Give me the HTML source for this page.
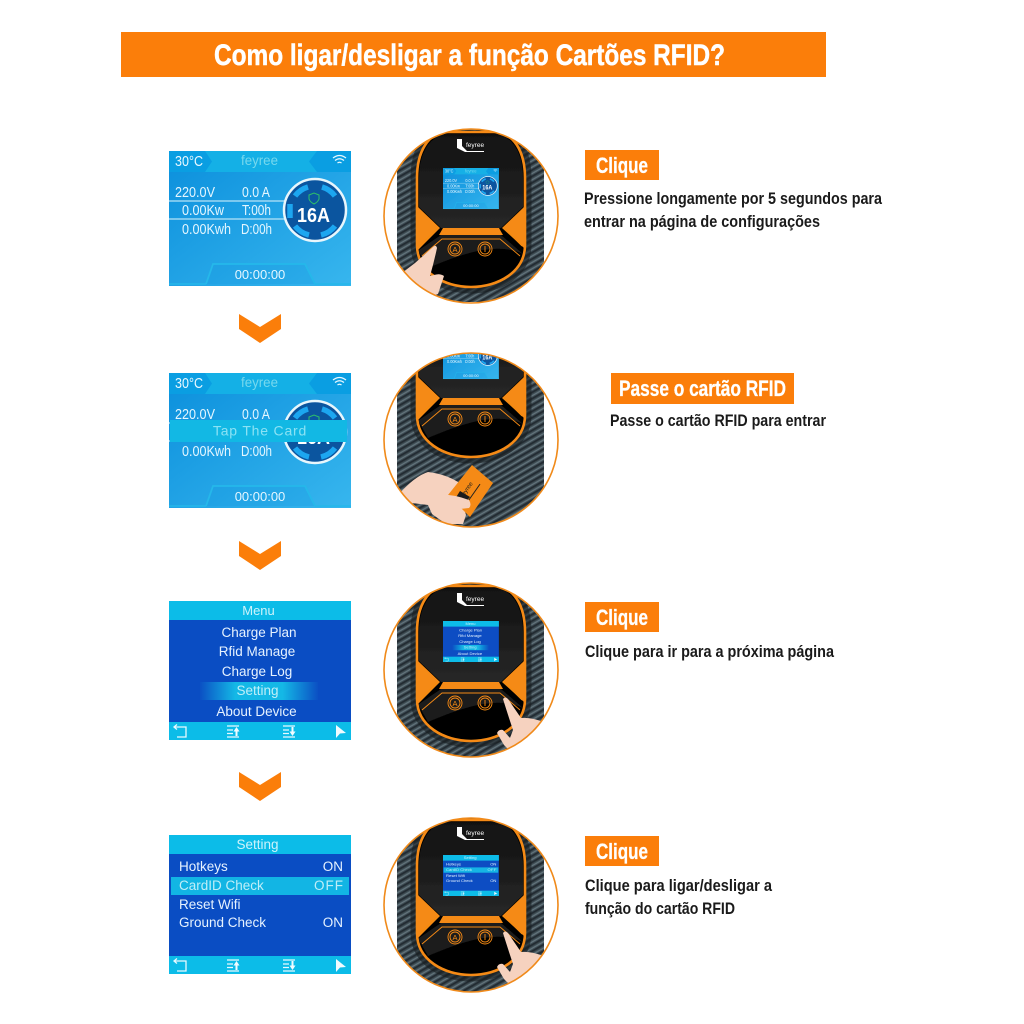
<!DOCTYPE html>
<html lang="pt"><head><meta charset="utf-8"><title>Como ligar/desligar a função Cartões RFID?</title>
<style>html,body{margin:0;padding:0;background:#fff}svg{display:block}text{font-family:"Liberation Sans",sans-serif}</style></head>
<body>
<svg xmlns="http://www.w3.org/2000/svg" xmlns:xlink="http://www.w3.org/1999/xlink" width="1024" height="1024" viewBox="0 0 1024 1024">
<defs>
<linearGradient id="bg" x1="0" y1="0" x2="1" y2="1"><stop offset="0" stop-color="#0b8fdc"/><stop offset="1" stop-color="#37b6ee"/></linearGradient>
<linearGradient id="hl"><stop offset="0" stop-color="#0b50c4"/><stop offset=".3" stop-color="#14b8e6"/><stop offset=".7" stop-color="#14b8e6"/><stop offset="1" stop-color="#0b50c4"/></linearGradient>
<linearGradient id="top" x1="0" y1="0" x2="0" y2="1"><stop offset="0" stop-color="#111"/><stop offset="1" stop-color="#272727"/></linearGradient>
<pattern id="carbon" width="5.500" height="5.500" patternUnits="userSpaceOnUse" patternTransform="rotate(-30)">
<rect width="5.500" height="5.500" fill="#3d4b52"/><rect width="5.500" height="1.800" fill="#232c31"/><rect y="3.200" width="5.500" height="1.200" fill="#66777f"/></pattern>
<clipPath id="c1"><circle cx="471" cy="216" r="87"/></clipPath>
<clipPath id="c2"><circle cx="471" cy="440" r="87"/></clipPath>
<clipPath id="c3"><circle cx="471" cy="670" r="87"/></clipPath>
<clipPath id="c4"><circle cx="471" cy="905" r="87"/></clipPath>
<filter id="soft"><feGaussianBlur stdDeviation=".25"/></filter>

<g id="s1">
<rect x="169" y="151" width="182" height="135" fill="url(#bg)"/>
<rect x="169" y="151" width="182" height="21" fill="#14b0e6"/>
<path d="M169 151H205L212 161.500L205 172H169Z" fill="#0a9ee2"/>
<path d="M351 151H317L309 161.500L317 172H351Z" fill="#0a9ee2"/>
<text x="175" y="166" font-size="15" fill="#e8f8ff" textLength="28" lengthAdjust="spacingAndGlyphs">30°C</text>
<text x="241" y="165" font-size="13.500" fill="#76d8ee" textLength="37" lengthAdjust="spacingAndGlyphs">feyree</text>
<g fill="none" stroke="#e8f8ff" stroke-width="1.300"><path d="M333 158Q339.500 153 346 158"/><path d="M335 160.500Q339.500 157 344 160.500"/><path d="M337.500 163Q339.500 161.500 341.500 163"/></g>
<path d="M169 201H285M169 219H285" stroke="#b8e4f6" stroke-width="1.200"/>
<g font-size="14.500" fill="#e4f6ff">
<text x="175" y="197" textLength="40" lengthAdjust="spacingAndGlyphs">220.0V</text><text x="242" y="197" textLength="28" lengthAdjust="spacingAndGlyphs">0.0 A</text>
<text x="182" y="215" textLength="42" lengthAdjust="spacingAndGlyphs">0.00Kw</text><text x="242" y="215" textLength="29" lengthAdjust="spacingAndGlyphs">T:00h</text>
<text x="182" y="234" textLength="49" lengthAdjust="spacingAndGlyphs">0.00Kwh</text><text x="241" y="234" textLength="31" lengthAdjust="spacingAndGlyphs">D:00h</text></g>
<circle cx="315" cy="210" r="31" fill="#0b559f" stroke="#e8f6fc" stroke-width="2.500"/>
<g fill="none" stroke="#1ca6f0" stroke-width="5.500">
<path d="M295 196A25 25 0 0 1 308 187"/><path d="M322 187A25 25 0 0 1 335 196"/><path d="M290 204V218"/><path d="M295 226A25 25 0 0 0 309 235"/><path d="M321 235A25 25 0 0 0 335 226"/></g>
<path d="M309 195L314 193L319 195V199Q318 202 314 204Q310 202 309 199Z" fill="none" stroke="#2ebf6a" stroke-width="1"/>
<text x="297" y="222" font-size="20" font-weight="700" fill="#fff" textLength="33" lengthAdjust="spacingAndGlyphs">16A</text>
<path d="M206 284L213 264H305L315 284" fill="#1297e0" fill-opacity=".25" stroke="#25b8ea" stroke-width="1.800"/>
<path d="M169 284H206M315 284H351" stroke="#25b8ea" stroke-width="1.500"/>
<text x="260" y="279" font-size="13" fill="#e4f6ff" text-anchor="middle">00:00:00</text>
</g>

<g id="foot">
<rect x="169" y="0" width="182" height="18" fill="#0cbce8"/>
<g fill="none" stroke="#e8f9ff" stroke-width="1.300"><path d="M174 5H186V15H177M177 2.500L174 5L177 7.500"/>
<path d="M227 4H239M227 8H233M227 11.500H233M227 15H239"/><path d="M283 4H295M283 8H289M283 11.500H289M283 15H295"/></g>
<path d="M236.500 5L239.500 9.500H237.500V14H235.500V9.500H233.500ZM292.500 14L289.500 9.500H291.500V5H293.500V9.500H295.500Z" fill="#f0fbff"/>
<path d="M336 3L346 11L340 11.500L336 16Z" fill="#f0fbff"/>
</g>

<g id="s3">
<rect x="169" y="601" width="182" height="139" fill="#0a4dc3"/>
<rect x="169" y="601" width="182" height="19" fill="#0cbce8"/>
<text x="258.500" y="615" font-size="13" fill="#cdf3fb" text-anchor="middle">Menu</text>
<rect x="200" y="682" width="118" height="18" fill="url(#hl)"/>
<g font-size="13.500" fill="#e6f2ff" text-anchor="middle">
<text x="259" y="637">Charge Plan</text><text x="257" y="656">Rfid Manage</text><text x="257" y="676">Charge Log</text>
<text x="257.500" y="695" fill="#bfeef8">Setting</text><text x="256.500" y="716">About Device</text></g>
<use xlink:href="#foot" href="#foot" transform="translate(0,722)"/>
</g>

<g id="s4">
<rect x="169" y="835" width="182" height="139" fill="#0a4dc3"/>
<rect x="169" y="835" width="182" height="19" fill="#0cbce8"/>
<text x="257.500" y="849" font-size="13.500" fill="#cdf3fb" text-anchor="middle">Setting</text>
<rect x="171" y="877" width="178" height="18" fill="#12b5e4"/>
<g font-size="13.500" fill="#e6f2ff">
<text x="179" y="871">Hotkeys</text><text x="343" y="871" text-anchor="end">ON</text>
<text x="179" y="890" fill="#bfeef8">CardID Check</text><text x="344" y="890" text-anchor="end" fill="#bfeef8" letter-spacing="1">OFF</text>
<text x="179" y="909">Reset Wifi</text>
<text x="179" y="927">Ground Check</text><text x="343" y="927" text-anchor="end">ON</text></g>
<use xlink:href="#foot" href="#foot" transform="translate(0,956)"/>
</g>

<g id="dev">
<path d="M448 132H494C514 132 525 152 525 178V245C525 272 498 287 471 287C444 287 417 272 417 245V178C417 152 428 132 448 132Z" fill="none" stroke="#161c20" stroke-opacity=".6" stroke-width="13"/>
<path d="M448 132H494C514 132 525 152 525 178V245C525 272 498 287 471 287C444 287 417 272 417 245V178C417 152 428 132 448 132Z" fill="#000" stroke="#f58a12" stroke-width="2.600"/>
<path d="M449 134H493C512 134 523 153 523 178V207L501 228H441L419 207V178C419 153 430 134 449 134Z" fill="url(#top)"/>
<path d="M441 235H501L523 254C500 243 470 250 428 268L419 252V250Z" fill="#1c1c1c"/>
<path d="M418 207L440 228L418 250Z" fill="#f58a12"/>
<path d="M524 207L502 228L524 248Z" fill="#f58a12"/>
<path d="M443 228H499L503 235H439Z" fill="#f58a12"/>
<g fill="none" stroke="#f58a12" stroke-width=".9">
<path d="M422 256L442 239H500L520 256"/><path d="M438 228L420 246"/><path d="M504 228L522 246"/>
<circle cx="455" cy="249" r="7"/><circle cx="455" cy="249" r="5"/><circle cx="485" cy="249" r="7"/><circle cx="485" cy="249" r="5"/>
<path d="M485 246V252"/></g>
<text x="455" y="252" font-size="7.500" fill="#f58a12" text-anchor="middle">A</text>
<path d="M457 139H462V146L467 151H484V152H465L457 148Z" fill="#fff"/>
<text x="466" y="147" font-size="6.500" fill="#fff">feyree</text>
</g>
</defs>

<rect width="1024" height="1024" fill="#fff"/>
<rect x="121" y="32" width="705" height="45" fill="#fb7e0a"/>
<text x="214" y="65" font-size="30" font-weight="700" fill="#fff" stroke="#fff" stroke-width=".5" textLength="511" lengthAdjust="spacingAndGlyphs">Como ligar/desligar a função Cartões RFID?</text>

<use xlink:href="#s1" href="#s1"/>
<use xlink:href="#s1" href="#s1" transform="translate(0,222)"/>
<rect x="170" y="420" width="177" height="22" fill="#12b8e4"/>
<text x="260" y="435.500" font-size="14" fill="#8be2f4" text-anchor="middle" letter-spacing=".8">Tap The Card</text>
<use xlink:href="#s3" href="#s3"/>
<use xlink:href="#s4" href="#s4"/>

<g fill="#fb7e0a">
<path d="M239 314L260 327L281 314V329L260 343L239 329Z"/>
<path d="M239 541L260 554L281 541V556L260 570L239 556Z"/>
<path d="M239 772L260 785L281 772V787L260 801L239 787Z"/>
</g>

<g filter="url(#soft)">
<!-- circle 1 -->
<g clip-path="url(#c1)"><rect x="397" y="130" width="147" height="172" fill="url(#carbon)"/>
<use xlink:href="#dev" href="#dev"/>
<use xlink:href="#s1" href="#s1" transform="translate(443,168) scale(.307,.304) translate(-169,-151)"/>
<path d="M433 247Q436 244 437 248Q434 262 430 276L434 275Q440 273 444 276L438 294L428 298L402 273L415 263Z" fill="#f6d2bf"/></g>

<!-- circle 2 -->
<g clip-path="url(#c2)"><rect x="397" y="353" width="147" height="174" fill="url(#carbon)"/>
<use xlink:href="#dev" href="#dev" transform="translate(0,170)"/>
<use xlink:href="#s1" href="#s1" transform="translate(443,338) scale(.307,.304) translate(-169,-151)"/>
<path d="M398 495Q415 476 428 472Q445 474 458 482L462 500L466 515L463 524H446L432 514L428 505L412 503Z" fill="#f6d2bf"/>
<path d="M472 465L493 483L470 517L448 495Z" fill="#f58a12"/>
<g transform="translate(471,490) rotate(-55)"><text x="-2" y="-2" font-size="6" fill="#222" text-anchor="middle">feyree</text><path d="M-14 4H10" stroke="#222" stroke-width="1"/></g>
<path d="M460 491L470 497L463 505L455 499Z" fill="#1a1a1a"/>
<path d="M434 495Q450 493 469 500Q472 505 469 508Q455 510 445 508Z" fill="#f6d2bf"/></g>

<!-- circle 3 -->
<g clip-path="url(#c3)"><rect x="397" y="583" width="147" height="174" fill="url(#carbon)"/>
<use xlink:href="#dev" href="#dev" transform="translate(0,454)"/>
<use xlink:href="#s3" href="#s3" transform="translate(443,621) scale(.307,.295) translate(-169,-601)"/>
<path d="M503 699Q505 696 508 699L521 718Q530 717 544 722L516 757L504 745L497 733Q499 729 503 730L510 738L513 730Q507 712 503 699Z" fill="#f6d2bf"/></g>

<!-- circle 4 -->
<g clip-path="url(#c4)"><rect x="397" y="818" width="147" height="174" fill="url(#carbon)"/>
<use xlink:href="#dev" href="#dev" transform="translate(0,688)"/>
<use xlink:href="#s4" href="#s4" transform="translate(443,855) scale(.307,.295) translate(-169,-835)"/>
<path d="M503 933Q505 930 508 933L521 952Q530 951 544 956L516 991L504 979L497 967Q499 963 503 964L510 972L513 964Q507 946 503 933Z" fill="#f6d2bf"/></g>
</g>

<g fill="none" stroke="#f08a1a" stroke-width="1.600">
<circle cx="471" cy="216" r="87"/><circle cx="471" cy="440" r="87"/><circle cx="471" cy="670" r="87"/><circle cx="471" cy="905" r="87"/>
</g>

<g fill="#fb7e0a">
<rect x="585" y="150" width="74" height="30"/><rect x="611" y="373" width="183" height="31"/>
<rect x="585" y="602" width="74" height="30"/><rect x="585" y="836" width="74" height="30"/>
</g>
<g font-size="22" font-weight="700" fill="#fff" stroke="#fff" stroke-width=".3">
<text x="596" y="173" textLength="52" lengthAdjust="spacingAndGlyphs">Clique</text>
<text x="619" y="396" textLength="167" lengthAdjust="spacingAndGlyphs">Passe o cartão RFID</text>
<text x="596" y="625" textLength="52" lengthAdjust="spacingAndGlyphs">Clique</text>
<text x="596" y="859" textLength="52" lengthAdjust="spacingAndGlyphs">Clique</text>
</g>
<g font-size="17" font-weight="700" fill="#1a1a1a">
<text x="584" y="204" textLength="298" lengthAdjust="spacingAndGlyphs">Pressione longamente por 5 segundos para</text>
<text x="584" y="227" textLength="236" lengthAdjust="spacingAndGlyphs">entrar na página de configurações</text>
<text x="610" y="426" textLength="216" lengthAdjust="spacingAndGlyphs">Passe o cartão RFID para entrar</text>
<text x="585" y="657" textLength="249" lengthAdjust="spacingAndGlyphs">Clique para ir para a próxima página</text>
<text x="585" y="891" textLength="187" lengthAdjust="spacingAndGlyphs">Clique para ligar/desligar a</text>
<text x="585" y="914" textLength="150" lengthAdjust="spacingAndGlyphs">função do cartão RFID</text>
</g>
</svg>
</body></html>
